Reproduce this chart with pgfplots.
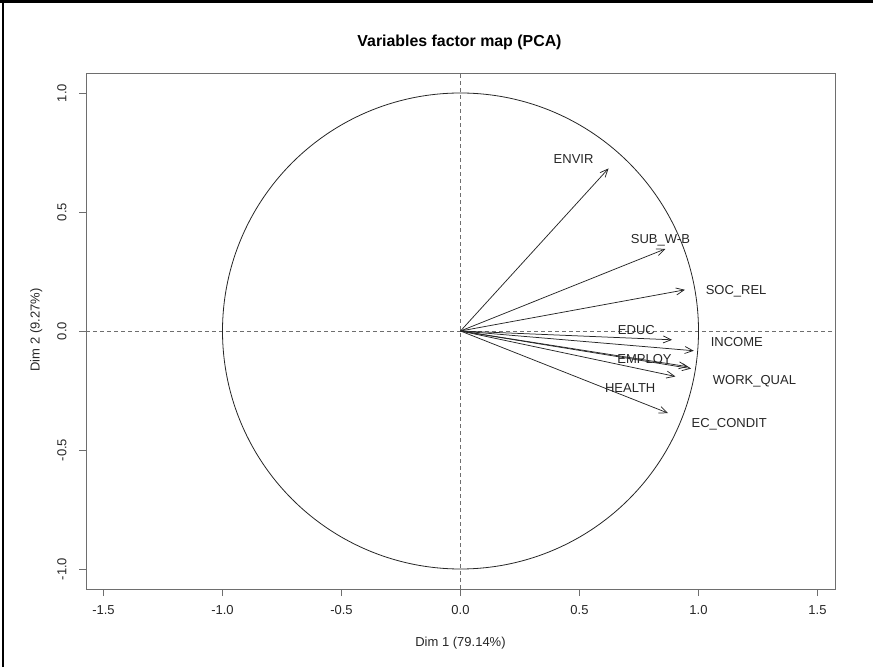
\documentclass[border=0pt]{standalone}
\usepackage{pgfplots}
\pgfplotsset{compat=1.18}
\usepackage{fontspec}
\setmainfont{Liberation Sans}
\usetikzlibrary{arrows.meta}
\definecolor{boxgray}{HTML}{6E6E6E}
\definecolor{txt}{HTML}{262626}
\tikzset{
  arr/.style={draw=black!85, line width=0.75pt, -{Straight Barb[length=8pt,width=7pt]}},
  lab/.style={font=\fontsize{13}{15}\selectfont, text=txt, anchor=base, yshift=-4.7pt, inner sep=0pt},
}
\begin{document}
\begin{tikzpicture}[x=1pt,y=1pt]
\path[use as bounding box] (0,0) rectangle (873,667);
% outer frame (top and left)
\draw[line width=2.5pt,black] (0,665.5) -- (873,665.5);
\draw[line width=2.5pt,black] (2.8,0) -- (2.8,667);
\begin{axis}[
  at={(86pt,78pt)}, anchor=south west,
  scale only axis, width=749pt, height=516pt,
  xmin=-1.5735, xmax=1.5735, ymin=-1.084, ymax=1.084,
  axis line style={draw=boxgray, line width=0.9pt},
  xtick={-1.5,-1,-0.5,0,0.5,1,1.5},
  xticklabels={-1.5,-1.0,-0.5,0.0,0.5,1.0,1.5},
  ytick={-1,-0.5,0,0.5,1},
  yticklabels={-1.0,-0.5,0.0,0.5,1.0},
  xtick pos=left, ytick pos=left,
  tick align=outside, major tick length=7pt,
  every tick/.style={draw=boxgray, line width=0.9pt},
  ticklabel style={font=\fontsize{13}{15}\selectfont, text=txt},
  xticklabel style={yshift=-6pt},
  yticklabel style={rotate=90, anchor=south, yshift=9pt},
  clip=false,
]
% dashed axes through origin
\addplot[draw=boxgray, line width=0.9pt, dash pattern=on 4pt off 3pt] coordinates {(-1.5735,0) (1.5735,0)};
\addplot[draw=boxgray, line width=0.9pt, dash pattern=on 4pt off 3pt] coordinates {(0,-1.084) (0,1.084)};
% correlation circle
\addplot[draw=black!85, line width=0.8pt, domain=0:360, samples=181, smooth] ({cos(x)},{sin(x)});
% variable arrows
\addplot[arr] coordinates {(0,0) (0.622,0.683)};   % ENVIR
\addplot[arr] coordinates {(0,0) (0.861,0.345)};   % SUB_W-B
\addplot[arr] coordinates {(0,0) (0.943,0.173)};   % SOC_REL
\addplot[arr] coordinates {(0,0) (0.889,-0.037)};  % EDUC
\addplot[arr] coordinates {(0,0) (0.980,-0.083)};  % INCOME
\addplot[arr] coordinates {(0,0) (0.955,-0.150)};  % EMPLOY
\addplot[arr] coordinates {(0,0) (0.969,-0.158)};  % WORK_QUAL
\addplot[arr] coordinates {(0,0) (0.903,-0.191)};  % HEALTH
\addplot[arr] coordinates {(0,0) (0.872,-0.345)};  % EC_CONDIT
% labels
\node[lab] at (axis cs:0.475,0.725) {ENVIR};
\node[lab] at (axis cs:0.840,0.389) {SUB\_W-B};
\node[lab] at (axis cs:1.158,0.173) {SOC\_REL};
\node[lab] at (axis cs:0.739,0.005) {EDUC};
\node[lab] at (axis cs:1.161,-0.044) {INCOME};
\node[lab] at (axis cs:0.773,-0.117) {EMPLOY};
\node[lab] at (axis cs:1.235,-0.205) {WORK\_QUAL};
\node[lab] at (axis cs:0.713,-0.240) {HEALTH};
\node[lab] at (axis cs:1.129,-0.387) {EC\_CONDIT};
\end{axis}
% title and axis labels
\node[anchor=base, inner sep=0pt, font=\fontsize{15.9}{18}\selectfont\bfseries, text=black] at (459.5,620) {Variables factor map (PCA)};
\node[anchor=base, inner sep=0pt, font=\fontsize{13}{15}\selectfont, text=txt] at (460.5,20.5) {Dim 1 (79.14\%)};
\node[anchor=base, inner sep=0pt, rotate=90, font=\fontsize{13}{15}\selectfont, text=txt] at (39.5,337) {Dim 2 (9.27\%)};
\end{tikzpicture}
\end{document}
